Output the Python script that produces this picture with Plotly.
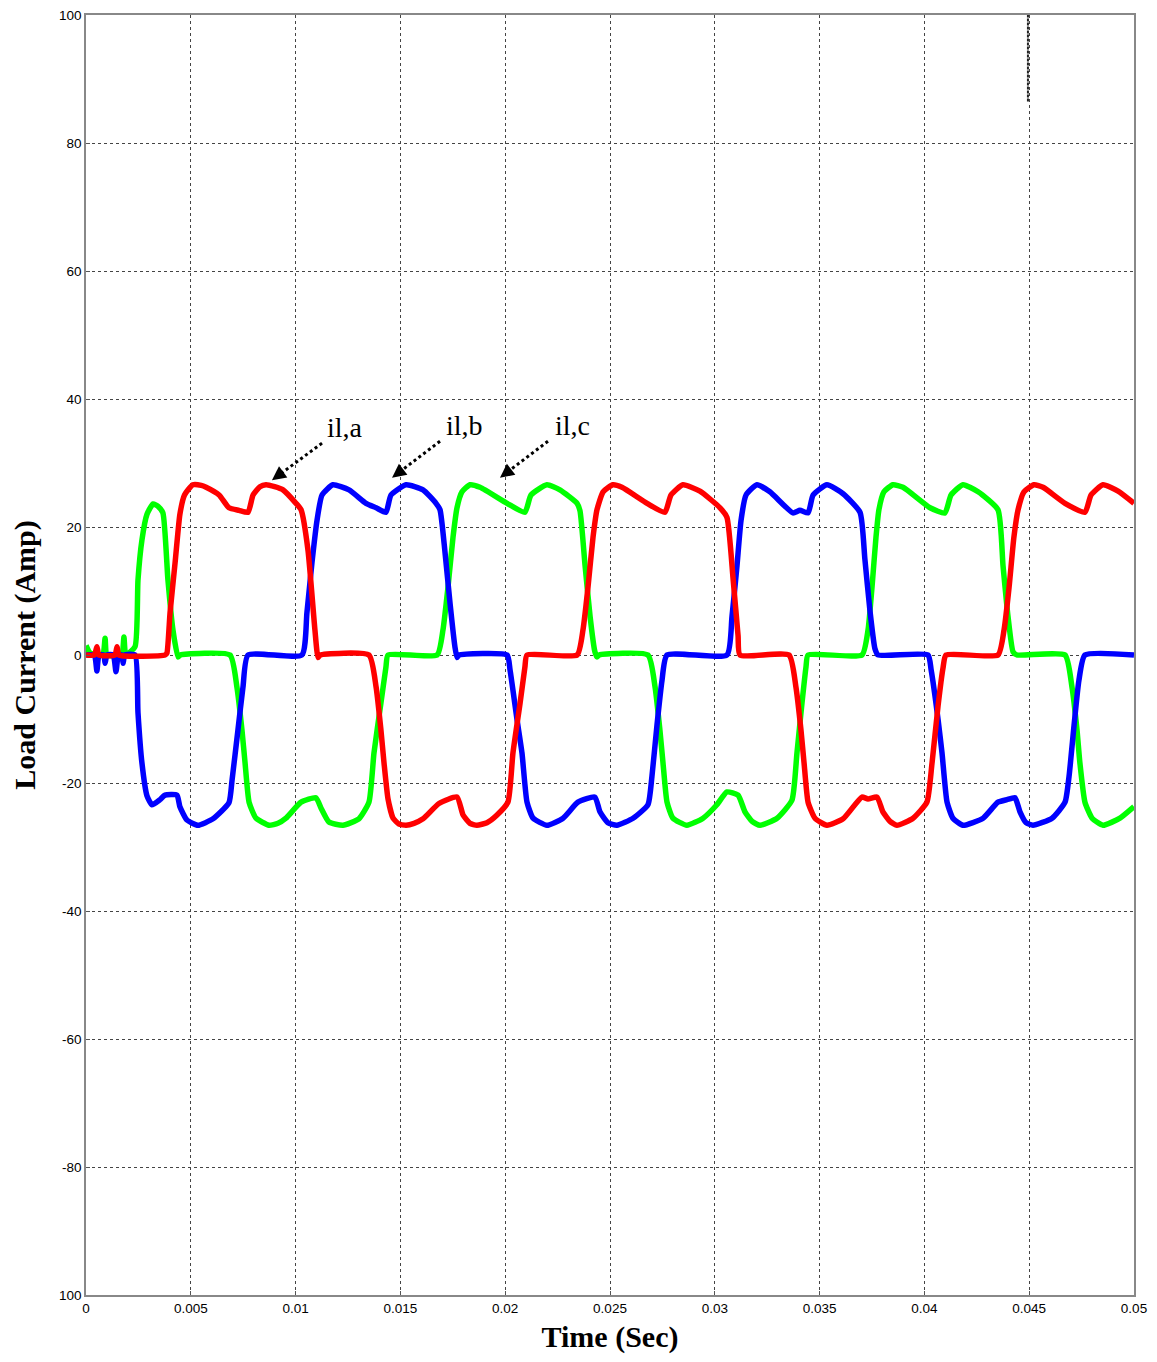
import plotly.graph_objects as go

# ---------------- data ----------------
t_a = [0, 0.0004, 0.00052, 0.00062, 0.00138, 0.00148, 0.00158, 0.00377,
       0.00386, 0.00401, 0.00425, 0.00448, 0.0047, 0.0051, 0.0055, 0.00573, 0.00635, 0.00682, 0.0073,
       0.00773, 0.00797, 0.0083, 0.00859, 0.009, 0.0094, 0.01002, 0.01026, 0.01059, 0.01092, 0.01107, 0.01117,
       0.0135, 0.01384, 0.01407, 0.01422, 0.01441, 0.01465, 0.01493, 0.01527, 0.01565, 0.01608, 0.01684,
       0.0177, 0.01799, 0.01832, 0.01865, 0.01913, 0.01961, 0.02013, 0.02037, 0.02071, 0.02094,
       0.02104, 0.02343, 0.02371, 0.02395, 0.02419, 0.02438, 0.02467, 0.02514, 0.02557, 0.02677, 0.02762,
       0.02791, 0.02848, 0.02929, 0.03025, 0.03058, 0.03087, 0.03111, 0.0312,
       0.03354, 0.03387, 0.03411, 0.03426, 0.03445, 0.03478, 0.03535, 0.03612, 0.03702, 0.03731, 0.03774,
       0.03802, 0.03836, 0.03869, 0.03946, 0.04012, 0.04036, 0.04065, 0.04089, 0.04103,
       0.04351, 0.0438, 0.04404, 0.04427, 0.04447, 0.04475, 0.04523, 0.04566, 0.04671, 0.04766, 0.04795,
       0.04852, 0.04924, 0.05]
i_a = [0, 0, 1.3, 0, 0, 1.3, 0, 0,
       0.3, 6.6, 14.4, 22, 25, 26.6, 26.5, 26.2, 25, 23, 22.6,
       22.3, 25, 26.3, 26.6, 26.3, 25.8, 23.7, 22.7, 16.4, 4, -0.4, 0,
       0, -5, -11.7, -16.9, -22.5, -25.5, -26.4, -26.6, -26.3, -25.6, -23.2,
       -22.2, -25, -26.3, -26.6, -26.2, -25, -23, -15.3, -7.5, -1.9,
       0, 0, 3.9, 10.6, 18.4, 22.7, 25.5, 26.6, 26.2, 23.7, 22.3,
       25, 26.6, 25.6, 23, 21.5, 12, 3, 0,
       0, -5, -11.7, -16.9, -23, -25.5, -26.6, -25.6, -22.2, -22.5, -22.2,
       -24.5, -26, -26.6, -25.5, -23, -17, -8, -2, 0,
       0, 3.9, 10.6, 18.4, 22.7, 25.5, 26.6, 26.2, 23.7, 22.3, 25,
       26.6, 25.6, 23.7]

t_b = [0, 0.0004, 0.00052, 0.00062, 0.00085, 0.00091, 0.001, 0.0013, 0.00143, 0.00155, 0.00172, 0.00177,
       0.00185, 0.00234, 0.00248, 0.00267, 0.00291, 0.00315, 0.00353, 0.00377, 0.00434, 0.00448, 0.00482,
       0.00534, 0.00606, 0.00682, 0.00697, 0.00725, 0.00749, 0.00773,
       0.0103, 0.01054, 0.01078, 0.01102, 0.01126, 0.01178, 0.01255, 0.01336, 0.01384, 0.01431, 0.01455,
       0.01527, 0.01608, 0.0167, 0.01689, 0.01713, 0.01737, 0.0176, 0.0177, 0.0178,
       0.02009, 0.02023, 0.02056, 0.0208, 0.02104, 0.02133, 0.02199, 0.02276, 0.02347, 0.02428, 0.02452,
       0.0249, 0.02533, 0.0261, 0.02681, 0.027, 0.02724, 0.02748, 0.02772,
       0.03058, 0.03082, 0.03106, 0.03125, 0.03149, 0.03201, 0.03263, 0.03373, 0.03406, 0.03445, 0.03469,
       0.03535, 0.03612, 0.03693, 0.03716, 0.0374, 0.03764, 0.03779,
       0.04017, 0.04032, 0.04065, 0.04084, 0.04108, 0.04136, 0.04184, 0.0428, 0.04351, 0.04394, 0.04432,
       0.04456, 0.04485, 0.04518, 0.04609, 0.04671, 0.0469, 0.04714, 0.04737, 0.04766, 0.05]
i_b = [0, 0, -2.5, 0, 0, -1.3, 0, 0, -2.6, 0, 0, -1.3,
       0, 0, -9, -16.9, -22, -23.4, -22.6, -21.9, -21.9, -23.7, -25.8,
       -26.6, -25.6, -23.1, -19.5, -11.7, -5, 0,
       0, 6.6, 14.4, 21, 25, 26.6, 25.8, 23.7, 23, 22.3, 25,
       26.6, 25.8, 23.7, 22.7, 16, 8, 1.3, -0.4, 0,
       0, -2.3, -10, -15.3, -23, -25.5, -26.6, -25.5, -23, -22.2, -24.5,
       -26.2, -26.6, -25.5, -23.4, -19, -11, -4, 0,
       0, 6, 14, 21, 25, 26.6, 25.5, 22.2, 22.6, 22.2, 25,
       26.6, 25.2, 22.3, 15, 7, 1, 0,
       0, -2.3, -10, -15.3, -23, -25.5, -26.6, -25.5, -23, -22.6, -22.3,
       -24.5, -26.2, -26.6, -25.5, -23, -19, -11, -4, 0, 0]

t_c = [0, 0.0002, 0.0008, 0.00091, 0.001, 0.0017, 0.00181, 0.0019, 0.00234,
       0.00248, 0.00267, 0.00291, 0.0032, 0.00345, 0.00367, 0.00391, 0.00415, 0.00439, 0.0045,
       0.00687, 0.0072, 0.00744, 0.00759, 0.00778, 0.00811, 0.00873, 0.00916, 0.00954, 0.01026, 0.01097,
       0.01121, 0.01159, 0.01226, 0.01302, 0.0135, 0.01374, 0.01407, 0.01431, 0.01441,
       0.01675, 0.01703, 0.01727, 0.01751, 0.0177, 0.01794, 0.01832, 0.0188, 0.02009, 0.02094, 0.02123,
       0.02199, 0.02261, 0.02343, 0.02357, 0.02381, 0.02405, 0.02428, 0.02438, 0.02448,
       0.02681, 0.02715, 0.02738, 0.02753, 0.02772, 0.028, 0.02867, 0.02944, 0.0301, 0.03058, 0.03111,
       0.03144, 0.03178, 0.03216, 0.03297, 0.03368, 0.03392, 0.03416, 0.03435, 0.03445,
       0.03702, 0.03731, 0.0375, 0.03769, 0.03783, 0.03807, 0.0385, 0.03898, 0.04027, 0.04098, 0.04127,
       0.04184, 0.04256, 0.04351, 0.04375, 0.04399, 0.04423, 0.04442,
       0.04671, 0.04704, 0.04728, 0.04742, 0.04766, 0.048, 0.04852, 0.04933, 0.05]
i_c = [1.5, 0.3, 0, 2.6, 0, 0, 2.8, 0, 1.3,
       11.7, 18, 22, 23.6, 23.2, 22.2, 11.7, 3.9, -0.3, 0,
       0, -5, -11.7, -16.9, -23, -25.5, -26.6, -26.3, -25.5, -23, -22.3,
       -23.9, -26.1, -26.6, -25.6, -23, -15.3, -7.5, -1.9, 0,
       0, 3.9, 10.6, 18.4, 23, 25.5, 26.6, 26.2, 23.7, 22.3, 25,
       26.6, 25.8, 23.7, 22.5, 14, 6, 0.5, -0.3, 0,
       0, -5, -11.7, -16.9, -23, -25.5, -26.6, -25.5, -23.4, -21.4, -21.9,
       -24.5, -26, -26.6, -25.5, -22.7, -15.3, -7.5, -1.9, 0,
       0, 3.9, 10.6, 18.4, 22.7, 25.5, 26.6, 26.2, 23, 22.2, 25,
       26.6, 25.5, 22.7, 14, 6, 0.5, 0,
       0, -5, -11.7, -16.9, -23, -25.5, -26.6, -25.5, -23.7]

x_tickvals = [0, 0.005, 0.01, 0.015, 0.02, 0.025, 0.03, 0.035, 0.04, 0.045, 0.05]
x_ticktext = ["0", "0.005", "0.01", "0.015", "0.02", "0.025", "0.03", "0.035", "0.04", "0.045", "0.05"]
y_tickvals = [-100, -80, -60, -40, -20, 0, 20, 40, 60, 80, 100]
y_ticktext = ["100", "-80", "-60", "-40", "-20", "0", "20", "40", "60", "80", "100"]

labels = ["il,a", "il,b", "il,c"]
label_pos = [(0.01236, 35.6), (0.01808, 35.9), (0.02319, 35.9)]
arrow_tail = [(0.01126, 33.1), (0.01689, 33.4), (0.02204, 33.4)]
arrow_head = [(0.00887, 27.3), (0.0146, 27.7), (0.01975, 27.7)]

# ---------------- figure ----------------
fig = go.Figure()
for t, v, col, name in [(t_c, i_c, "#00FF00", "il,c"), (t_b, i_b, "#0000FF", "il,b"),
                        (t_a, i_a, "#FF0000", "il,a")]:
    fig.add_trace(go.Scatter(x=t, y=v, mode="lines", name=name,
                             line=dict(color=col, width=5.5, shape="spline", smoothing=0.5),
                             showlegend=False))

serif = "Liberation Serif, Times New Roman, serif"
for lab, (lx, ly), (tx, ty), (hx, hy) in zip(labels, label_pos, arrow_tail, arrow_head):
    fig.add_annotation(x=lx, y=ly, text=lab, showarrow=False,
                       font=dict(family=serif, size=28, color="black"))
    fig.add_shape(type="line", x0=tx, y0=ty, x1=hx + (tx - hx) * 0.2, y1=hy + (ty - hy) * 0.2,
                  line=dict(color="black", width=3, dash="dot"))
    fig.add_annotation(x=hx, y=hy, ax=hx + (tx - hx) * 0.25, ay=hy + (ty - hy) * 0.25,
                       axref="x", ayref="y", xref="x", yref="y", text="",
                       showarrow=True, arrowhead=2, arrowsize=1.4, arrowwidth=2,
                       arrowcolor="black")

fig.add_shape(type="line", x0=0.04494, x1=0.04494, y0=86.5, y1=100,
              line=dict(color="#222222", width=2, dash="3px,1px"))

fig.update_layout(
    width=1141, height=1346,
    margin=dict(l=78, r=15, t=7, b=59, autoexpand=False),
    paper_bgcolor="white", plot_bgcolor="white",
    font=dict(family="Liberation Sans, Arial, sans-serif", size=13, color="black"),
)
fig.update_xaxes(range=[0, 0.05], tickvals=x_tickvals, ticktext=x_ticktext,
                 showgrid=True, gridcolor="#444444", griddash="dot", gridwidth=1,
                 showline=True, linecolor="#888888", linewidth=1.5, mirror=True,
                 ticks="inside", ticklen=4, tickcolor="#555555", zeroline=False,
                 automargin=False, ticklabeloverflow="allow",
                 tickfont=dict(size=13.5),
                 title=dict(text="<b>Time (Sec)</b>", font=dict(family=serif, size=30), standoff=12))
fig.update_yaxes(range=[-100, 100], tickvals=y_tickvals, ticktext=y_ticktext,
                 showgrid=True, gridcolor="#444444", griddash="dot", gridwidth=1,
                 showline=True, linecolor="#888888", linewidth=1.5, mirror=True,
                 ticks="inside", ticklen=4, tickcolor="#555555", zeroline=False,
                 automargin=False, ticklabeloverflow="allow",
                 tickfont=dict(size=13.5),
                 title=dict(text="<b>Load Current (Amp)</b>", font=dict(family=serif, size=30), standoff=18))

fig.write_html("out.html")
